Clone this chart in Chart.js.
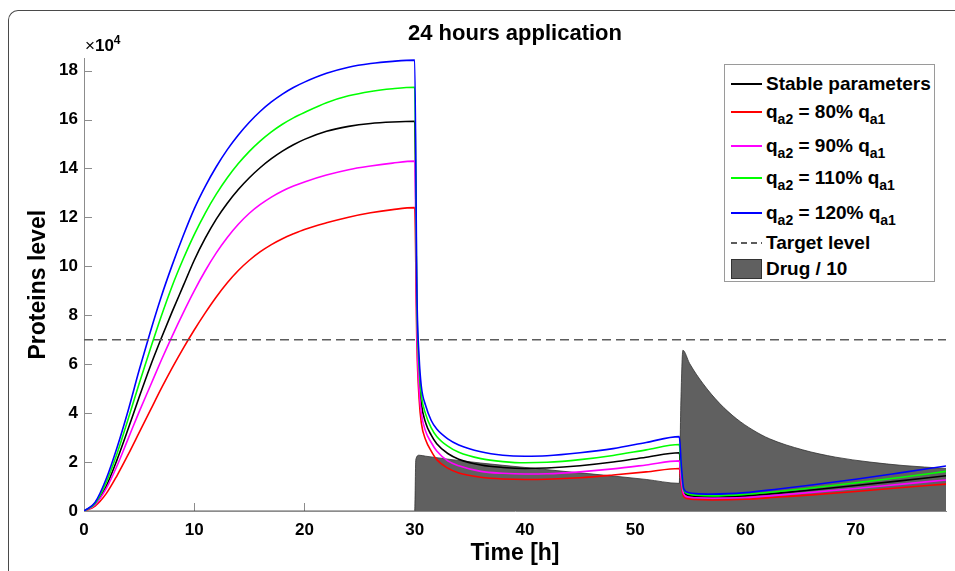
<!DOCTYPE html>
<html>
<head>
<meta charset="utf-8">
<script src="https://cdn.jsdelivr.net/npm/chart.js@4.4.1/dist/chart.umd.min.js"></script>
<style>
  html, body { margin: 0; padding: 0; background: #fff; }
  #wrap {
    position: relative; width: 955px; height: 571px; overflow: hidden;
    font-family: "Liberation Sans", Arial, Helvetica, sans-serif; color: #000;
  }
  #frame {
    position: absolute; left: 8px; top: 10px; width: 990px; height: 600px;
    border-top: 1.5px solid #4a4a4a; border-left: 1.5px solid #4a4a4a;
    border-top-left-radius: 10px;
  }
  canvas { position: absolute; left: 0; top: 0; }
  #exp { position: absolute; left: 85px; top: 37px; font-size: 17px; line-height: 18px; white-space: nowrap; }
  #exp b { font-weight: bold; }
  #exp sup { font-size: 12px; font-weight: bold; vertical-align: 7px; line-height: 0; }
  #legend {
    position: absolute; left: 724px; top: 64px; width: 211px; height: 218px;
    box-sizing: border-box; border: 1px solid #9a9a9a; background: #fff;
  }
  .row {
    position: absolute; left: 6px; height: 22px; display: flex; align-items: center;
    font-weight: bold; font-size: 19px; white-space: nowrap;
  }
  .row sub { font-size: 14px; line-height: 0; vertical-align: -6px; }
  .sample { width: 31px; height: 1.5px; margin-right: 4px; flex: none; }
  .swatch { width: 29px; height: 18px; margin-right: 4px; flex: none; background: #606060; border: 1px solid #333; }
</style>
</head>
<body>
<div id="wrap">
  <div id="frame"></div>
  <canvas id="chart" width="955" height="571"></canvas>
  <div id="exp">&times;<b>10</b><sup>4</sup></div>
  <div id="legend"></div>
</div>
<script>
'use strict';

// ── data (proteins level, ×10^4) ──────────────────────────────
const times = [
  0, 1, 2, 3, 4, 5, 6, 7, 8, 9, 10, 11, 12, 13, 14, 15, 16, 17, 18, 19, 20, 22, 24, 26, 28, 30,
  30.2, 30.4, 30.6, 31, 31.5, 32, 33, 34, 36, 38, 40, 42, 45, 48, 51, 54,
  54.2, 54.4, 54.8, 55.5, 57, 60, 63, 66, 70, 74, 78.2
];

const stableParams = [
  0, 0.28, 1.0, 2.1, 3.35, 4.65, 5.9, 7.05, 8.15, 9.2, 10.25, 11.15, 11.93, 12.58, 13.14, 13.62, 14.04, 14.4, 14.71, 14.97, 15.19,
  15.52, 15.72, 15.84, 15.9, 15.93,
  8.0, 5.5, 4.4, 3.6, 3.1, 2.75, 2.35, 2.12, 1.88, 1.78, 1.74, 1.76, 1.85, 2.0, 2.2, 2.38,
  1.4, 0.78, 0.64, 0.6, 0.58, 0.62, 0.73, 0.86, 1.04, 1.23, 1.44
];
const qa80 = [
  0, 0.2, 0.7, 1.45, 2.3, 3.2, 4.1, 5.0, 5.85, 6.65, 7.4, 8.1, 8.75, 9.33, 9.83, 10.25, 10.6, 10.89, 11.13, 11.33, 11.51,
  11.78, 12.01, 12.19, 12.32, 12.4,
  6.8, 4.6, 3.6, 2.9, 2.45, 2.1, 1.75, 1.55, 1.38, 1.31, 1.29, 1.3, 1.36, 1.47, 1.6, 1.74,
  1.05, 0.6, 0.5, 0.47, 0.45, 0.48, 0.57, 0.66, 0.8, 0.95, 1.1
];
const qa90 = [
  0, 0.25, 0.9, 1.85, 2.95, 4.05, 5.1, 6.15, 7.15, 8.1, 9.0, 9.82, 10.55, 11.18, 11.72, 12.17, 12.53, 12.83, 13.08, 13.28, 13.45,
  13.73, 13.95, 14.1, 14.22, 14.3,
  7.4, 5.0, 4.0, 3.25, 2.8, 2.45, 2.05, 1.85, 1.62, 1.54, 1.51, 1.52, 1.6, 1.72, 1.88, 2.05,
  1.2, 0.7, 0.57, 0.54, 0.52, 0.55, 0.65, 0.76, 0.92, 1.09, 1.27
];
const qa110 = [
  0, 0.3, 1.15, 2.35, 3.75, 5.2, 6.6, 7.95, 9.2, 10.3, 11.3, 12.18, 12.95, 13.62, 14.2, 14.7, 15.13, 15.5, 15.81, 16.07, 16.29,
  16.69, 16.97, 17.15, 17.26, 17.32,
  8.5, 5.9, 4.75, 3.95, 3.4, 3.05, 2.65, 2.4, 2.14, 2.02, 1.97, 1.99, 2.1, 2.27, 2.5, 2.72,
  1.6, 0.85, 0.7, 0.65, 0.62, 0.68, 0.8, 0.94, 1.15, 1.37, 1.62
];
const qa120 = [
  0, 0.35, 1.3, 2.6, 4.1, 5.75, 7.3, 8.75, 10.05, 11.25, 12.35, 13.27, 14.07, 14.77, 15.37, 15.89, 16.34, 16.72, 17.04, 17.31, 17.53,
  17.89, 18.14, 18.29, 18.38, 18.43,
  9.0, 6.3, 5.1, 4.3, 3.7, 3.35, 2.95, 2.7, 2.42, 2.28, 2.24, 2.26, 2.38, 2.55, 2.8, 3.04,
  1.8, 0.92, 0.76, 0.71, 0.69, 0.75, 0.9, 1.06, 1.3, 1.56, 1.84
];

const drugTimes = [
  0, 30, 30.1, 30.4, 31, 33, 36, 40, 44, 48, 51, 54,
  54.15, 54.33, 54.94, 56.15, 57.66, 59.17, 60.68, 62.2, 65.2, 68.2, 71.3, 74.3, 78.2
];
const drugOver10 = [
  0, 0, 2.1, 2.28, 2.24, 2.12, 1.96, 1.78, 1.6, 1.43, 1.29, 1.13,
  4.5, 6.57, 6.03, 5.21, 4.4, 3.78, 3.31, 2.95, 2.5, 2.2, 2.0, 1.86, 1.74
];

const targetLevel = 7;
const xRange = [0, 78.2];
const yRange = [0, 18.5];
const xTickValues = [0, 10, 20, 30, 40, 50, 60, 70];
const yTickValues = [0, 2, 4, 6, 8, 10, 12, 14, 16, 18];

const legendLabels = [
  'Stable parameters',
  'q<sub>a2</sub> = 80% q<sub>a1</sub>',
  'q<sub>a2</sub> = 90% q<sub>a1</sub>',
  'q<sub>a2</sub> = 110% q<sub>a1</sub>',
  'q<sub>a2</sub> = 120% q<sub>a1</sub>',
  'Target level',
  'Drug / 10'
];

// ── style ─────────────────────────────────────────────────────
const FONT = '"Liberation Sans", Arial, Helvetica, sans-serif';
const AXIS = '#8c8c8c';
const C_STABLE = '#000000';
const C_80 = '#ff0000';
const C_90 = '#ff00ff';
const C_110 = '#00ff00';
const C_120 = '#0000ff';
const C_TARGET = '#5c5c5c';

const pts = (xs, ys) => xs.map((x, i) => ({ x, y: ys[i] }));

function curve(label, values, color) {
  return {
    label,
    data: pts(times, values),
    borderColor: color,
    backgroundColor: color,
    borderWidth: 1.6,
    pointRadius: 0,
    cubicInterpolationMode: 'monotone',
    fill: false,
  };
}

// inward MATLAB-style tick marks
const innerTicks = {
  id: 'innerTicks',
  beforeDatasetsDraw(chart) {
    const { ctx, chartArea: a, scales: { x, y } } = chart;
    ctx.save();
    ctx.strokeStyle = AXIS;
    ctx.lineWidth = 1;
    ctx.beginPath();
    xTickValues.forEach(v => {
      const px = Math.round(x.getPixelForValue(v)) + 0.5;
      ctx.moveTo(px, a.bottom);
      ctx.lineTo(px, a.bottom - 8);
    });
    yTickValues.forEach(v => {
      const py = Math.round(y.getPixelForValue(v)) + 0.5;
      ctx.moveTo(a.left, py);
      ctx.lineTo(a.left + 8, py);
    });
    ctx.stroke();
    ctx.restore();
  }
};

// datasets: index 0 ends up drawn on top
const datasets = [
  {
    label: 'Target level',
    data: [{ x: xRange[0], y: targetLevel }, { x: xRange[1], y: targetLevel }],
    borderColor: C_TARGET,
    borderWidth: 1.5,
    borderDash: [9, 5],
    pointRadius: 0,
    fill: false,
  },
  curve('q_a2 = 120% q_a1', qa120, C_120),
  curve('q_a2 = 110% q_a1', qa110, C_110),
  curve('q_a2 = 90% q_a1', qa90, C_90),
  curve('q_a2 = 80% q_a1', qa80, C_80),
  curve('Stable parameters', stableParams, C_STABLE),
  {
    label: 'Drug / 10',
    data: pts(drugTimes, drugOver10),
    borderColor: '#333333',
    backgroundColor: '#606060',
    borderWidth: 0.8,
    pointRadius: 0,
    cubicInterpolationMode: 'monotone',
    fill: 'origin',
  },
];

new Chart(document.getElementById('chart'), {
  type: 'line',
  data: { datasets },
  plugins: [innerTicks],
  options: {
    responsive: false,
    animation: false,
    devicePixelRatio: 1,
    layout: { padding: { left: 0, right: 9, top: 0, bottom: 0 } },
    plugins: {
      legend: { display: false },
      tooltip: { enabled: false },
      title: {
        display: true,
        text: '24 hours application',
        fullSize: false,
        color: '#000',
        font: { family: FONT, size: 22, weight: 'bold' },
        padding: { top: 21, bottom: 11 },
      },
    },
    scales: {
      x: {
        type: 'linear',
        min: xRange[0],
        max: xRange[1],
        afterBuildTicks: s => { s.ticks = xTickValues.map(value => ({ value })); },
        afterFit: s => { s.height = 60; },
        grid: { display: false, drawTicks: false },
        border: { display: true, color: AXIS, width: 1 },
        ticks: {
          color: '#000',
          padding: 9,
          maxRotation: 0,
          font: { family: FONT, size: 17, weight: 'bold' },
        },
        title: {
          display: true,
          text: 'Time [h]',
          color: '#000',
          font: { family: FONT, size: 23, weight: 'bold' },
          padding: { top: 0, bottom: 4 },
        },
      },
      y: {
        type: 'linear',
        min: yRange[0],
        max: yRange[1],
        afterBuildTicks: s => { s.ticks = yTickValues.map(value => ({ value })); },
        afterFit: s => { s.width = 84; },
        grid: { display: false, drawTicks: false },
        border: { display: true, color: AXIS, width: 1 },
        ticks: {
          color: '#000',
          padding: 6,
          font: { family: FONT, size: 17, weight: 'bold' },
        },
        title: {
          display: true,
          text: 'Proteins level',
          color: '#000',
          font: { family: FONT, size: 23, weight: 'bold' },
          padding: { top: 25, bottom: 0 },
        },
      },
    },
  },
});

// ── legend (HTML so the subscripts stay real text) ────────────
const legendItems = [
  { kind: 'line', color: C_STABLE },
  { kind: 'line', color: C_80 },
  { kind: 'line', color: C_90 },
  { kind: 'line', color: C_110 },
  { kind: 'line', color: C_120 },
  { kind: 'dash', color: C_TARGET },
  { kind: 'box' },
];
const rowCenters = [19, 47, 81, 113, 148, 178, 204];

const legendEl = document.getElementById('legend');
legendItems.forEach((item, i) => {
  const row = document.createElement('div');
  row.className = 'row';
  row.style.top = (rowCenters[i] - 11) + 'px';
  const mark = document.createElement('span');
  if (item.kind === 'box') {
    mark.className = 'swatch';
  } else {
    mark.className = 'sample';
    mark.style.background = item.kind === 'dash'
      ? `repeating-linear-gradient(90deg, ${item.color} 0 6px, transparent 6px 10px)`
      : item.color;
  }
  const text = document.createElement('span');
  text.innerHTML = legendLabels[i];
  row.appendChild(mark);
  row.appendChild(text);
  legendEl.appendChild(row);
});
</script>
</body>
</html>
